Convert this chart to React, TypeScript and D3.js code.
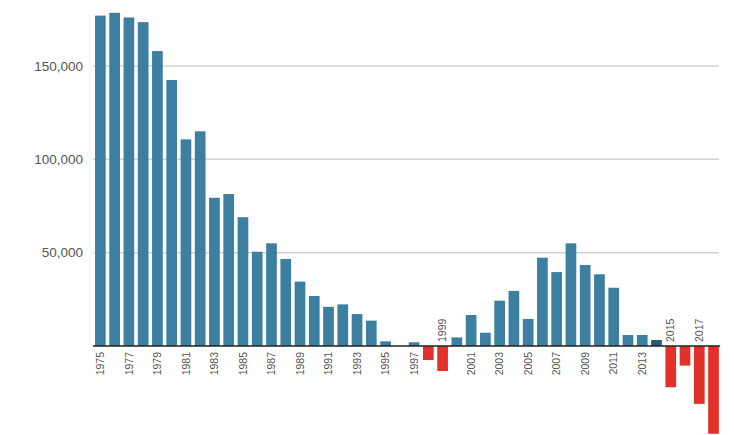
import React from "react";
import * as d3 from "d3";

const YEARS = d3.range(1975, 2019);

// net values
const VALUES = [
  177000, 178500, 176000, 173500, 158000, 142500, 110700, 115000, 79400, 81400,
  69000, 50500, 55000, 46600, 34500, 26800, 21000, 22300, 17100, 13600,
  2500, 0, 2000, -7500, -13400, 4600, 16600, 7100, 24300, 29500,
  14500, 47300, 39600, 55000, 43400, 38400, 31200, 5900, 5900, 3200,
  -22100, -10500, -31000, -47000,
];

const Y_TICKS = [50000, 100000, 150000];
const LABEL_YEARS = YEARS.filter((y) => (y - 1975) % 2 === 0 && y <= 2017);

const W = 734;
const H = 435;
const BLUE = "#3c7fa0";
const DARK = "#24597a";
const RED = "#e2302a";
const FONT = "'Liberation Sans', Arial, sans-serif";

export default function App() {
  const x = d3
    .scaleBand<number>()
    .domain(YEARS)
    .range([93.6, 720.3])
    .paddingInner(0.25)
    .paddingOuter(0.1);

  const y = d3.scaleLinear().domain([0, 150000]).range([346, 66]);
  const fmt = d3.format(",");

  return (
    <div style={{ position: "absolute", left: 0, top: 0 }}>
      <svg width={W} height={H} style={{ display: "block", background: "#fff" }}>
        <g>
          {Y_TICKS.map((t) => (
            <g key={t}>
              <line x1={93} x2={719} y1={y(t)} y2={y(t)} stroke="#d2d2d2" strokeWidth={1.5} />
              <text
                x={83}
                y={y(t)}
                dy="0.35em"
                textAnchor="end"
                fontFamily={FONT}
                fontSize={13.5}
                fill="#555"
              >
                {fmt(t)}
              </text>
            </g>
          ))}
        </g>
        <g>
          {YEARS.map((yr, i) => {
            const v = VALUES[i];
            const top = y(Math.max(0, v));
            const bottom = y(Math.min(0, v));
            return (
              <rect
                key={yr}
                x={x(yr)}
                y={top}
                width={x.bandwidth()}
                height={bottom - top}
                fill={v < 0 ? RED : yr === 2014 ? DARK : BLUE}
              />
            );
          })}
        </g>
        <line x1={93} x2={720} y1={y(0)} y2={y(0)} stroke="#222" strokeWidth={1.5} />
        <g fontFamily={FONT} fontSize={10.5} fill="#555">
          {LABEL_YEARS.map((yr) => {
            const v = VALUES[YEARS.indexOf(yr)];
            const cx = (x(yr) ?? 0) + x.bandwidth() / 2;
            const below = v >= 0;
            const ty = below ? y(0) + 6 : y(0) - 4;
            return (
              <text
                key={yr}
                transform={`translate(${cx},${ty}) rotate(-90)`}
                dy="0.35em"
                textAnchor={below ? "end" : "start"}
              >
                {yr}
              </text>
            );
          })}
        </g>
      </svg>
    </div>
  );
}
